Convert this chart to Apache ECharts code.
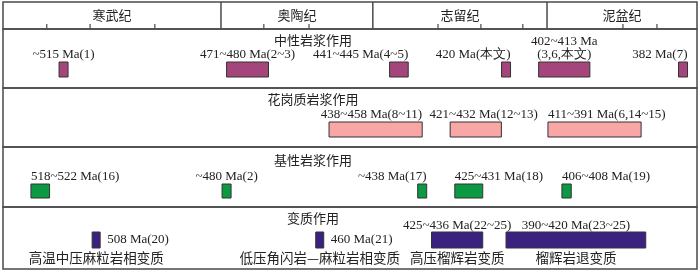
<!DOCTYPE html>
<html><head><meta charset="utf-8">
<script src="https://cdn.jsdelivr.net/npm/echarts@6/dist/echarts.min.js"></script>
<style>html,body{margin:0;padding:0;background:#fff}#c{width:700px;height:272px}</style>
</head><body><div id="c"></div>
<script>
// ---------- data ----------
const periodNames = ['寒武纪', '奥陶纪', '志留纪', '泥盆纪'];
const periodBoundaries = [528, 481.2, 448.6, 411.2, 379];            // Ma (schematic)
const epochTicks = [518.6, 509.3, 495.4, 472.0, 462.3, 434.6, 425.4, 416.4, 394.9, 387.6];
const panelTitles = ['中性岩浆作用', '花岗质岩浆作用', '基性岩浆作用', '变质作用'];

const intermediateOld = [515, 480, 445, 420, 413, 382];
const intermediateYoung = [515, 471, 441, 420, 402, 382];
const intermediateLabels = ['~515 Ma(1)', '471~480 Ma(2~3)', '441~445 Ma(4~5)', '420 Ma(本文)', '402~413 Ma\n(3,6,本文)', '382 Ma(7)'];

const graniticOld = [458, 432, 411];
const graniticYoung = [438, 421, 391];
const graniticLabels = ['438~458 Ma(8~11)', '421~432 Ma(12~13)', '411~391 Ma(6,14~15)'];

const basicOld = [522, 480, 438, 431, 408];
const basicYoung = [518, 480, 438, 425, 406];
const basicLabels = ['518~522 Ma(16)', '~480 Ma(2)', '~438 Ma(17)', '425~431 Ma(18)', '406~408 Ma(19)'];

const metaOld = [508, 460, 436, 420];
const metaYoung = [508, 460, 425, 390];
const metaLabels = ['508 Ma(20)', '460 Ma(21)', '425~436 Ma(22~25)', '390~420 Ma(23~25)'];
const metaTypes = ['高温中压麻粒岩相变质', '低压角闪岩—麻粒岩相变质', '高压榴辉岩变质', '榴辉岩退变质'];

// ---------- styles / layout ----------
const SERIF = '13px "Liberation Serif", "Times New Roman", serif';
const SANS = '13px "Noto Sans CJK SC", sans-serif';
const SANS_DESC = '13.5px "Noto Sans CJK SC", sans-serif';
const INK = '#222';
const LINE = '#4a4a4a';
// label anchoring (style only)
const intermediateStyle = { align: ['center', 'center', 'right', 'right', 'center', 'right'], dx: [0, 0, 0, 0, 0, 0] };
const graniticStyle = { align: ['right', 'center', 'left'], dx: [0, 8, 0] };
const basicStyle = { align: ['left', 'center', 'right', 'left', 'left'], dx: [0, 0, 0, 0, 0] };
const metaStyle = { align: ['side', 'side', 'center', 'center'], dx: [0, 0, 0, 0] };

const gridBoxes = [
  { top: 2, height: 27 },
  { top: 29, height: 59 },
  { top: 88, height: 59 },
  { top: 147, height: 60 },
  { top: 207, height: 62 }
];
const titleY = [40, 99, 160, 218];

const ageMax = periodBoundaries[0];
const ageMin = periodBoundaries[periodBoundaries.length - 1];

function txt(text, x, y, align, valign, font) {
  return { type: 'text', silent: true, style: { text: text, x: x, y: y, font: font, fill: INK,
    textAlign: align, align: align, textVerticalAlign: valign, verticalAlign: valign, lineHeight: 13 } };
}

function barSeries(gi, olds, youngs, labels, lstyle, color, lay, extra) {
  return {
    type: 'custom', xAxisIndex: gi, yAxisIndex: gi, clip: false,
    data: olds.map((o, i) => [o, youngs[i]]),
    encode: { x: [0, 1] },
    renderItem: function (params, api) {
      const cs = params.coordSys;
      const i = params.dataIndex;
      let x1 = api.coord([api.value(0), 0.5])[0];
      let x2 = api.coord([api.value(1), 0.5])[0];
      if (x2 < x1) { const t = x1; x1 = x2; x2 = t; }
      if (x2 - x1 < lay.minW) { const c = (x1 + x2) / 2; x1 = c - lay.minW / 2; x2 = c + lay.minW / 2; }
      const top = cs.y + lay.barTop;
      const ch = [{ type: 'rect', shape: { x: x1, y: top, width: x2 - x1, height: lay.barH },
        style: { fill: color, stroke: '#333', lineWidth: 1 } }];
      const al = lstyle.align[i];
      const dx = lstyle.dx[i];
      if (al === 'side') {
        ch.push(txt(labels[i], x2 + 7 + dx, top + lay.barH / 2, 'left', 'middle', SERIF));
      } else {
        const tx = al === 'left' ? x1 : (al === 'right' ? x2 : (x1 + x2) / 2);
        ch.push(txt(labels[i], tx + dx, top - lay.labelGap, al, 'bottom', SERIF));
      }
      if (extra) ch.push(txt(extra[i], (x1 + x2) / 2, cs.y + lay.descY, 'center', 'middle', SANS_DESC));
      return { type: 'group', children: ch };
    }
  };
}

const option = {
  animation: false,
  backgroundColor: '#fff',
  grid: gridBoxes.map(g => ({ left: 3, right: 3, top: g.top, height: g.height, show: true,
    borderColor: LINE, borderWidth: 1.5, backgroundColor: 'transparent' })),
  xAxis: gridBoxes.map((g, i) => ({ type: 'value', gridIndex: i, min: ageMin, max: ageMax, inverse: true, show: false })),
  yAxis: gridBoxes.map((g, i) => ({ type: 'value', gridIndex: i, min: 0, max: 1, show: false })),
  graphic: panelTitles.map((t, i) => ({ type: 'text', x: 313, y: titleY[i], silent: true,
    style: { text: t, font: SANS, fill: INK, textAlign: 'center', align: 'center', textVerticalAlign: 'middle', verticalAlign: 'middle' } })),
  series: [
    {
      type: 'custom', xAxisIndex: 0, yAxisIndex: 0, clip: false,
      data: periodNames.map((n, i) => [periodBoundaries[i], periodBoundaries[i + 1]]),
      encode: { x: [0, 1] },
      renderItem: function (params, api) {
        const cs = params.coordSys;
        const i = params.dataIndex;
        const x1 = api.coord([api.value(0), 0])[0];
        const x2 = api.coord([api.value(1), 0])[0];
        const ch = [txt(periodNames[i], (x1 + x2) / 2, cs.y + 13, 'center', 'middle', SANS)];
        if (i > 0) ch.push({ type: 'line', shape: { x1: x1, y1: cs.y, x2: x1, y2: cs.y + cs.height },
          style: { stroke: LINE, lineWidth: 1.5 } });
        return { type: 'group', children: ch };
      }
    },
    {
      type: 'custom', xAxisIndex: 0, yAxisIndex: 0, clip: false,
      data: epochTicks.map(t => [t]),
      encode: { x: 0 },
      renderItem: function (params, api) {
        const cs = params.coordSys;
        const x = api.coord([api.value(0), 0])[0];
        return { type: 'line', shape: { x1: x, y1: cs.y + cs.height - 5, x2: x, y2: cs.y + cs.height },
          style: { stroke: LINE, lineWidth: 1.2 } };
      }
    },
    barSeries(1, intermediateOld, intermediateYoung, intermediateLabels, intermediateStyle, '#a4457c',
      { minW: 9, barTop: 33, barH: 15, labelGap: 1 }),
    barSeries(2, graniticOld, graniticYoung, graniticLabels, graniticStyle, '#f8a6a6',
      { minW: 9, barTop: 34, barH: 15, labelGap: 1 }),
    barSeries(3, basicOld, basicYoung, basicLabels, basicStyle, '#0b9a43',
      { minW: 9, barTop: 37, barH: 14, labelGap: 1 }),
    barSeries(4, metaOld, metaYoung, metaLabels, metaStyle, '#3b2281',
      { minW: 8, barTop: 25, barH: 16, labelGap: 0, descY: 51 }, metaTypes)
  ]
};

const chart = echarts.init(document.getElementById('c'), null, { renderer: 'canvas' });
chart.setOption(option);
</script>
</body></html>
